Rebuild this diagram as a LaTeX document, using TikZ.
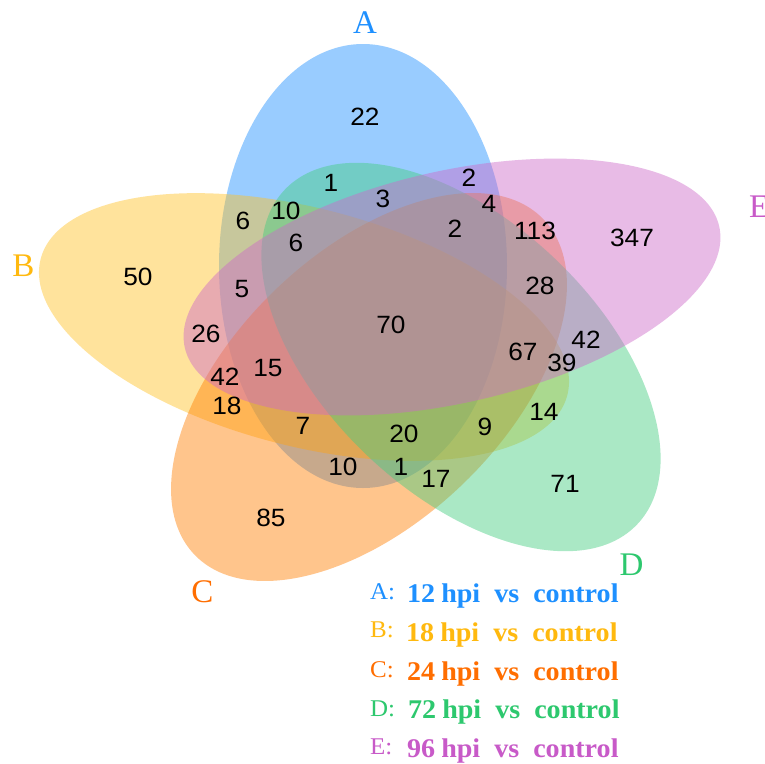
\documentclass[tikz,border=0pt]{standalone}
\usepackage{fontspec}
\setmainfont{Liberation Serif}
\newfontfamily\numfont[FakeStretch=1.05]{Liberation Sans}
\newfontfamily\legfont[FakeStretch=1.04]{Liberation Serif}
% set fills
\definecolor{setA}{RGB}{30,144,255}
\definecolor{setB}{RGB}{255,193,37}
\definecolor{setC}{RGB}{255,127,0}
\definecolor{setD}{RGB}{67,205,128}
\definecolor{setE}{RGB}{205,105,201}
% label and legend colours
\definecolor{labA}{RGB}{30,144,255}
\definecolor{labB}{RGB}{255,185,15}
\definecolor{labC}{RGB}{255,110,0}
\definecolor{labD}{RGB}{45,200,110}
\definecolor{labE}{RGB}{200,90,200}

\begin{document}
\begin{tikzpicture}[x=1pt,y=-1pt,
  petal/.style={fill=#1, fill opacity=0.45},
  count/.style={font=\numfont\fontsize{25}{25}\selectfont, inner sep=0pt},
  setlabel/.style={font=\fontsize{33}{33}\selectfont, text=#1, inner sep=0pt, anchor=base},
  legkey/.style={font=\legfont\fontsize{24}{24}\selectfont, text=#1, inner sep=0pt, anchor=base west},
  legtext/.style={font=\legfont\bfseries\fontsize{27}{27}\selectfont, text=#1, inner sep=0pt, anchor=base west},
]
\useasboundingbox (0,0) rectangle (764,764);
\fill[white] (0,0) rectangle (764,764);

% the five sets
\fill[petal=setA, rotate around={90:(363,266)}] (363,266) ellipse [x radius=222, y radius=144];
\fill[petal=setB, rotate around={-14.5:(304,327)}] (304,327) ellipse [x radius=272, y radius=119];
\fill[petal=setC, rotate around={43.9:(369,387)}] (369,387) ellipse [x radius=242, y radius=135];
\fill[petal=setD, rotate around={-43.5:(461,357)}] (461,357) ellipse [x radius=243, y radius=136];
\fill[petal=setE, rotate around={12.8:(452,287)}] (452,287) ellipse [x radius=274, y radius=116];

% set names
\node[setlabel=labA] (labelA) at (365,33) {A};
\node[setlabel=labB] (labelB) at (23.5,276) {B};
\node[setlabel=labC] (labelC) at (202.5,602) {C};
\node[setlabel=labD] (labelD) at (631.5,575) {D};
\node[setlabel=labE, anchor=base west] (labelE) at (749,217) {E};

% region counts
\node[count] (c01) at (365,117) {22};
\node[count] (c02) at (331,183) {1};
\node[count] (c03) at (383,199) {3};
\node[count] (c04) at (469,178) {2};
\node[count] (c05) at (489,204) {4};
\node[count] (c06) at (455,229) {2};
\node[count] (c07) at (535,231) {113};
\node[count] (c08) at (632,238) {347};
\node[count] (c09) at (243,221) {6};
\node[count] (c10) at (286,211) {10};
\node[count] (c11) at (296,243) {6};
\node[count] (c12) at (138,277) {50};
\node[count] (c13) at (242,289) {5};
\node[count] (c14) at (391,325) {70};
\node[count] (c15) at (540,286) {28};
\node[count] (c16) at (206,334) {26};
\node[count] (c17) at (225,377) {42};
\node[count] (c18) at (268,368) {15};
\node[count] (c19) at (523,352) {67};
\node[count] (c20) at (586,340) {42};
\node[count] (c21) at (562,363) {39};
\node[count] (c22) at (227,406) {18};
\node[count] (c23) at (303,426) {7};
\node[count] (c24) at (404,434) {20};
\node[count] (c25) at (485,427) {9};
\node[count] (c26) at (544,412) {14};
\node[count] (c27) at (343,467) {10};
\node[count] (c28) at (401,467) {1};
\node[count] (c29) at (436,479) {17};
\node[count] (c30) at (565,484) {71};
\node[count] (c31) at (271,518) {85};

% legend
\node[legkey=labA] (keyA) at (370,599) {A:};
\node[legkey=labB] (keyB) at (370,637) {B:};
\node[legkey=labC] (keyC) at (370,677) {C:};
\node[legkey=labD] (keyD) at (370,716) {D:};
\node[legkey=labE] (keyE) at (370,754) {E:};
\node[legtext=labA] (txtA) at (407,602) {12\hspace{6pt}hpi\hspace{14pt}vs\hspace{14pt}control};
\node[legtext=labB] (txtB) at (406,641.5) {18\hspace{6pt}hpi\hspace{14pt}vs\hspace{14pt}control};
\node[legtext=labC] (txtC) at (407,680) {24\hspace{6pt}hpi\hspace{14pt}vs\hspace{14pt}control};
\node[legtext=labD] (txtD) at (408,718.5) {72\hspace{6pt}hpi\hspace{14pt}vs\hspace{14pt}control};
\node[legtext=labE] (txtE) at (407,757) {96\hspace{6pt}hpi\hspace{14pt}vs\hspace{14pt}control};
\end{tikzpicture}
\end{document}
